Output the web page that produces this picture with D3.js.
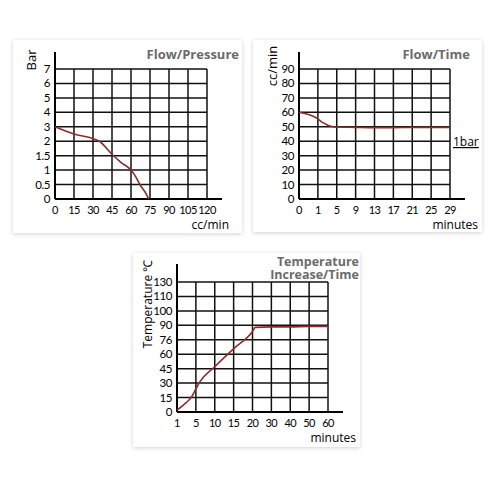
<!DOCTYPE html>
<html>
<head>
<meta charset="utf-8">
<script src="https://cdn.jsdelivr.net/npm/d3@7"></script>
<style>
  body { margin: 0; background: #fff; }
  svg text { font-family: Lato, "Open Sans", sans-serif; }
</style>
</head>
<body>
<div id="chart"></div>
<script>
// tick labels (all axes are drawn as evenly spaced categories)
var flowTicks = [0, 15, 30, 45, 60, 75, 90, 105, 120];
var barTicks = [0, 0.5, 1, 1.5, 2, 3, 4, 5, 6, 7];
var minuteTicks = [0, 1, 5, 9, 13, 17, 21, 25, 29];
var ccTicks = [0, 10, 20, 30, 40, 50, 60, 70, 80, 90];
var tempMinuteTicks = [1, 5, 10, 15, 20, 30, 40, 50, 60];
var tempTicks = [0, 15, 30, 45, 60, 76, 90, 100, 110, 130];

// series values
var pressureFlow = [0, 15, 30, 35, 45, 52, 60, 64, 67, 71, 74];
var pressureBar  = [3, 2.5, 2.18, 2.0, 1.55, 1.27, 1.0, 0.75, 0.5, 0.25, 0];

var flowMinutes = [0, 1, 2, 3, 4, 5, 9, 13, 17, 21, 25, 29];
var flowCc      = [60, 55.5, 53, 51.3, 50.2, 49.8, 49.6, 49.4, 49.4, 49.6, 49.6, 49.6];

var tempMinutes = [1, 3, 4, 5, 6, 10, 15, 20, 21.5, 30, 40, 50, 60];
var tempValues  = [2, 10, 15, 24, 31, 47, 66, 84, 88, 88.5, 88.5, 89, 89];

var width = 500, height = 500;
var svg = d3.select("#chart")
            .append("svg")
            .attr("width", width)
            .attr("height", height);

var defs = svg.append("defs");
var shadow = defs.append("filter").attr("id", "shadow")
                 .attr("x", "-10%").attr("y", "-10%")
                 .attr("width", "120%").attr("height", "120%");
shadow.append("feDropShadow")
      .attr("dx", 0).attr("dy", 1)
      .attr("stdDeviation", 2)
      .attr("flood-color", "#000")
      .attr("flood-opacity", 0.18);

function drawChart(c) {
    // card
    svg.append("rect")
       .attr("x", c.card[0]).attr("y", c.card[1])
       .attr("width", c.card[2]).attr("height", c.card[3])
       .attr("fill", "#fff")
       .attr("filter", "url(#shadow)");

    var g = svg.append("g");

    // polylinear scales: each tick value sits on an evenly spaced grid line
    var x = d3.scaleLinear()
              .domain(c.xTicks)
              .range(c.xTicks.map((d, i) => c.left + i * (c.right - c.left) / (c.xTicks.length - 1)));
    var y = d3.scaleLinear()
              .domain(c.yTicks)
              .range(c.yTicks.map((d, i) => c.bottom - i * (c.bottom - c.top) / (c.yTicks.length - 1)));

    // grid
    g.selectAll(".vgrid")
     .data(c.xTicks.slice(1))
     .enter().append("line")
     .attr("x1", d => x(d)).attr("x2", d => x(d))
     .attr("y1", c.top).attr("y2", c.bottom)
     .attr("stroke", "#111").attr("stroke-width", 1.5);
    g.selectAll(".hgrid")
     .data(c.yTicks.slice(1))
     .enter().append("line")
     .attr("x1", c.left).attr("x2", c.right)
     .attr("y1", d => y(d)).attr("y2", d => y(d))
     .attr("stroke", "#111").attr("stroke-width", 1.5);

    // axes lines
    g.append("line")
     .attr("x1", c.left).attr("x2", c.left)
     .attr("y1", c.bottom).attr("y2", c.axisTop)
     .attr("stroke", "#000").attr("stroke-width", 2);
    g.append("line")
     .attr("x1", c.left).attr("x2", c.axisRight)
     .attr("y1", c.bottom).attr("y2", c.bottom)
     .attr("stroke", "#000").attr("stroke-width", 2);

    // tick labels
    g.selectAll(".xlab")
     .data(c.xTicks)
     .enter().append("text")
     .attr("x", d => x(d)).attr("y", c.bottom + 15)
     .attr("text-anchor", "middle")
     .style("font-size", "11px")
     .style("letter-spacing", "-0.6px")
     .text(d => d);
    g.selectAll(".ylab")
     .data(c.yTicks)
     .enter().append("text")
     .attr("x", c.left - 5).attr("y", d => y(d) + 4)
     .attr("text-anchor", "end")
     .style("font-size", "11.5px")
     .style("letter-spacing", "-0.4px")
     .text(d => d);

    // the curve
    var line = d3.line()
                 .x(d => x(d[0]))
                 .y(d => y(d[1]))
                 .curve(d3.curveMonotoneX);
    g.append("path")
     .datum(d3.zip(c.xs, c.ys))
     .attr("d", line)
     .attr("fill", "none")
     .attr("stroke", "#8e2c2c")
     .attr("stroke-width", 1.6);

    // title, one text with a tspan per line
    var t = g.append("text")
             .attr("x", c.titleX).attr("y", c.titleY)
             .attr("text-anchor", "end")
             .attr("fill", "#6b6b6b")
             .style("font-family", "'Open Sans', sans-serif")
             .style("font-weight", "bold")
             .style("font-size", c.titleSize);
    c.title.forEach((s, i) => {
        t.append("tspan").attr("x", c.titleX).attr("dy", i ? 12.5 : 0).text(s);
    });

    g.append("text")
     .attr("x", c.xLabelX).attr("y", c.xLabelY)
     .attr("text-anchor", "end")
     .style("font-family", "'Open Sans', sans-serif")
     .style("font-size", "12px")
     .text(c.xLabel);

    g.append("text")
     .attr("transform", "translate(" + c.yLabelX + "," + c.yLabelY + ") rotate(-90)")
     .attr("text-anchor", "middle")
     .style("font-family", "'Open Sans', sans-serif")
     .style("font-size", c.yLabelSize)
     .text(c.yLabel);

    return g;
}

drawChart({
    card: [13, 40, 229, 193],
    left: 55, right: 207, top: 69, bottom: 199, axisTop: 52, axisRight: 222,
    xTicks: flowTicks, yTicks: barTicks,
    xs: pressureFlow, ys: pressureBar,
    title: ["Flow/Pressure"], titleX: 239, titleY: 59, titleSize: "13px",
    xLabel: "cc/min", xLabelX: 229, xLabelY: 229,
    yLabel: "Bar", yLabelX: 36, yLabelY: 60, yLabelSize: "13px"
});

var g2 = drawChart({
    card: [253, 40, 229, 192],
    left: 299, right: 450, top: 69, bottom: 199, axisTop: 52, axisRight: 465,
    xTicks: minuteTicks, yTicks: ccTicks,
    xs: flowMinutes, ys: flowCc,
    title: ["Flow/Time"], titleX: 470, titleY: 59, titleSize: "13px",
    xLabel: "minutes", xLabelX: 478, xLabelY: 229,
    yLabel: "cc/min", yLabelX: 277, yLabelY: 66, yLabelSize: "13px"
});

g2.append("text")
  .attr("x", 453).attr("y", 146)
  .style("font-family", "'Open Sans', sans-serif")
  .style("font-size", "12px")
  .style("text-decoration", "underline")
  .text("1bar");

drawChart({
    card: [133, 253, 227, 194],
    left: 177, right: 328, top: 282, bottom: 412, axisTop: 264, axisRight: 343,
    xTicks: tempMinuteTicks, yTicks: tempTicks,
    xs: tempMinutes, ys: tempValues,
    title: ["Temperature", "Increase/Time"], titleX: 359, titleY: 266, titleSize: "12.5px",
    xLabel: "minutes", xLabelX: 356, xLabelY: 442,
    yLabel: "Temperature ℃", yLabelX: 152, yLabelY: 304, yLabelSize: "12px"
});
</script>
</body>
</html>
